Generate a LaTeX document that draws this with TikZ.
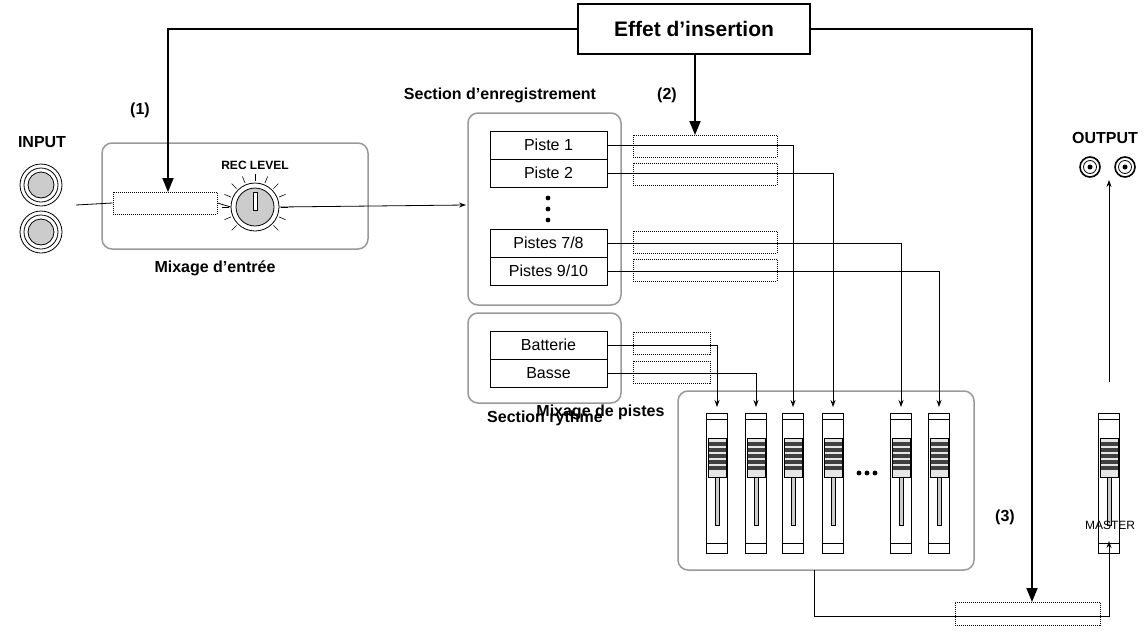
\documentclass[tikz,border=0pt]{standalone}
\usepackage{fontspec}
\setmainfont{Liberation Sans}
\usetikzlibrary{arrows.meta}

\tikzset{
    group/.style={draw=black!40, line width=1.5pt, rounded corners=10pt},
    track/.style={draw, line width=0.8pt, minimum width=117pt, minimum height=28pt,
        inner sep=0pt, font=\fontsize{16}{16}\selectfont},
    slot/.style={draw, densely dotted, line width=1pt, inner sep=0pt},
    lbl/.style={font=\fontsize{16}{16}\selectfont\bfseries},
    bus/.style={line width=0.8pt},
    sig/.style={line width=0.8pt, -{Stealth[length=7pt,width=5pt]}},
    fx/.style={line width=1.8pt, -{Triangle[length=14pt,width=11pt]}}
}

\begin{document}
\begin{tikzpicture}[x=1pt, y=-1pt]
    \useasboundingbox (0,0) rectangle (1145,632);

    % insertion effect box
    \node[draw, line width=1.6pt, minimum width=232pt, minimum height=50pt,
    font=\fontsize{21}{21}\selectfont\bfseries] (Effet) at (694,29) {Effet d'insertion};

    % input jacks
    \node[lbl] (InLbl) at (42,142) {INPUT};
    \foreach \y/\n in {185/1, 232/2}
    {
        \draw[line width=0.8pt] (41,\y) circle (21pt);
        \draw[line width=0.8pt] (41,\y) circle (17pt);
        \draw[line width=0.8pt, fill=black!20] (41,\y) circle (13pt);
    }
    \coordinate (InJack) at (76,205);

    % input mixer
    \draw[group] (102,143) rectangle (368,249);
    \node[lbl] (InMixLbl) at (215,268) {Mixage d'entr\'ee};
    \node[slot, minimum width=104pt, minimum height=22pt] (Slot1) at (165,203) {};
    \node[font=\fontsize{12}{12}\selectfont\bfseries] (RecLbl) at (255,165) {REC LEVEL};
    \foreach \a in {-135,-112.5,...,135}
        \draw[line width=0.6pt] (255,207) ++(90+\a:26pt) -- ++(90+\a:7pt);
    \node[draw, circle, line width=0.8pt, minimum size=48pt] (Knob) at (255,207) {};
    \draw[line width=0.8pt, fill=black!20] (255,207) circle (19pt);
    \draw[line width=0.8pt, fill=white] (253,192) rectangle (257,210);
    \node[lbl] (P1) at (140,110) {(1)};

    \draw[bus] (InJack) -- (Slot1.west);
    \draw[bus] (Slot1.east) -- (Knob.west);
    \draw[sig] (Knob.east) -- (466,205);

    % recorder section
    \draw[group] (468,113) rectangle (621,305);
    \node[lbl] (RecSecLbl) at (500,95) {Section d'enregistrement};
    \node[track] (T1) at (548.5,145) {Piste 1};
    \node[track] (T2) at (548.5,173) {Piste 2};
    \node[track] (T7) at (548.5,243) {Pistes 7/8};
    \node[track] (T9) at (548.5,271) {Pistes 9/10};
    \foreach \y in {198,209,220}
        \fill (548,\y) circle (2.4pt);
    \node[lbl] (P2) at (667,95) {(2)};

    % rhythm section
    \draw[group] (468,313) rectangle (621,403);
    \node[lbl] (RhySecLbl) at (545,418) {Section rythme};
    \node[track] (Bat) at (548.5,345) {Batterie};
    \node[track] (Bas) at (548.5,373) {Basse};

    % insert slots for tracks
    \foreach \n/\y in {T1/146, T2/174, T7/242, T9/270}
        \node[slot, minimum width=144pt, minimum height=22pt] (S\n) at (705,\y) {};
    \foreach \n/\y in {Bat/343, Bas/372}
        \node[slot, minimum width=77pt, minimum height=22pt] (S\n) at (671.5,\y) {};

    % track mixer
    \draw[group] (678,391) rectangle (974,570);
    \node[lbl, anchor=east] (TrMixLbl) at (668,412) {Mixage de pistes};
    \foreach \i/\x in {1/717, 2/756, 3/793, 4/833, 5/901, 6/939, 7/1109}
    {
        \draw[line width=0.8pt] (\x-10.5,413) rectangle (\x+10.5,553);
        \draw[line width=0.8pt] (\x-10.5,419) -- (\x+10.5,419);
        \draw[line width=0.8pt] (\x-10.5,543) -- (\x+10.5,543);
        \draw[line width=0.6pt, fill=black!20] (\x-2,438) rectangle (\x+2,525);
        \draw[line width=0.6pt, fill=black!10] (\x-9,438) rectangle (\x+9,477);
        \foreach \s in {442,448,454,460,466}
            \fill[black!75] (\x-9,\s) rectangle (\x+9,\s+3.5);
        \draw[line width=0.6pt] (\x-9,438) rectangle (\x+9,477);
        \coordinate (F\i) at (\x,407);
    }
    \foreach \x in {859,867,875}
        \fill (\x,473) circle (2.4pt);

    % track connectors
    \draw[sig] (T1.east) -| (F3);
    \draw[sig] (T2.east) -| (F4);
    \draw[sig] (T7.east) -| (F5);
    \draw[sig] (T9.east) -| (F6);
    \draw[sig] (Bat.east) -| (F1);
    \draw[sig] (Bas.east) -| (F2);

    % master and output
    \node[slot, minimum width=145pt, minimum height=23pt] (Slot3) at (1027.5,613.5) {};
    \coordinate (MixOut) at (814,570);
    \coordinate (MasterIn) at (1109,541);
    \coordinate (MasterOut) at (1109,382);
    \draw[sig] (MixOut) |- (1109,616) -- (MasterIn);
    \node[font=\fontsize{12}{12}\selectfont] (MasterLbl) at (1110,525) {MASTER};
    \node[lbl] (OutLbl) at (1105,138) {OUTPUT};
    \foreach \x in {1090,1125}
    {
        \draw[line width=1.6pt] (\x,167) circle (10pt);
        \draw[line width=0.8pt] (\x,167) circle (6.5pt);
        \fill (\x,167) circle (2.5pt);
    }
    \coordinate (OutJack) at (1109,180);
    \draw[sig] (MasterOut) -- (OutJack);
    \node[lbl] (P3) at (1005,517) {(3)};

    % insertion effect routes
    \coordinate (FxIn1) at (168,192);
    \coordinate (FxIn2) at (695,135);
    \coordinate (FxIn3) at (1032,602);
    \draw[fx] (Effet.west) -| (FxIn1);
    \draw[fx] (Effet.south -| FxIn2) -- (FxIn2);
    \draw[fx] (Effet.east) -| (FxIn3);
\end{tikzpicture}
\end{document}
